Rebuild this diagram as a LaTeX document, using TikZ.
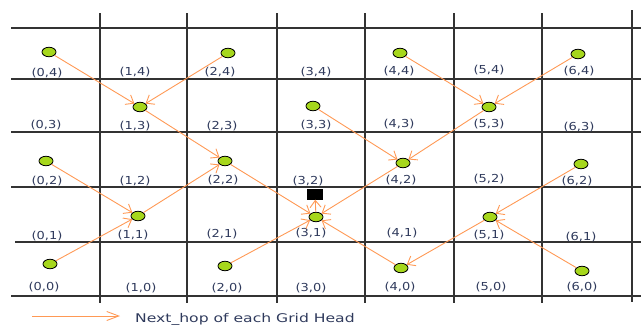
\documentclass[tikz,border=0pt]{standalone}
\usepackage{fontspec}
\setmainfont{DejaVu Sans}
\usetikzlibrary{arrows.meta,shapes.geometric}
\definecolor{gridc}{HTML}{333333}
\definecolor{arrc}{HTML}{FF9955}
\definecolor{nodefill}{HTML}{A6D71C}
\definecolor{labc}{HTML}{2F3A5C}
\newcommand{\widetxt}[2][1.18]{\scalebox{#1}[1]{#2}}
\tikzset{
  gh/.style={ellipse, draw=black, fill=nodefill, line width=0.8pt, minimum width=14pt, minimum height=9.5pt, inner sep=0pt},
  lab/.style={text=labc, font=\fontsize{11}{13}\selectfont, inner sep=0pt},
  hop/.style={draw=arrc, line width=0.9pt, -{Straight Barb[length=7pt,width=11pt]}},
  legendhop/.style={draw=arrc, line width=0.9pt, -{Straight Barb[length=12pt,width=9pt]}},
  gridline/.style={draw=gridc, line width=1.3pt},
  sinkbox/.style={fill=black, minimum width=16pt, minimum height=11pt, inner sep=0pt}
}
\begin{document}
\begin{tikzpicture}[x=1pt,y=-1pt]
\path[use as bounding box] (0,0) rectangle (641,327);
% grid
\foreach \yy/\xs in {28/11,79/11,132/11,187/11,242/15,296/11}
  \draw[gridline] (\xs,\yy) -- (641,\yy);
\foreach \xx in {100,187,277,365,454,542}
  \draw[gridline] (\xx,13) -- (\xx,303);
\draw[gridline] (632,10) -- (632,302);
% labels
\foreach \c/\r/\px/\py in {0/4/47/73, 1/4/135/72, 2/4/220/72, 3/4/316/72, 4/4/399/71, 5/4/489/70, 6/4/579/71,
  0/3/46/125, 1/3/135/126, 2/3/222/126, 3/3/316/125, 4/3/399/124, 5/3/489/124, 6/3/579/127,
  0/2/47/181, 1/2/135/181, 2/2/223/180, 3/2/308/181, 4/2/401/180, 5/2/489/179, 6/2/577/181,
  0/1/47/236, 1/1/133/235, 2/1/222/234, 3/1/311/233, 4/1/402/233, 5/1/489/235, 6/1/581/237,
  0/0/44/287, 1/0/141/288, 2/0/227/288, 3/0/311/288, 4/0/400/287, 5/0/491/287, 6/0/582/287}
  \node[lab] (l\c\r) at (\px,\py) {\widetxt{(\c,\r)}};
% grid heads
\foreach \c/\r/\px/\py in {0/4/49/52, 2/4/228/53, 1/3/140/107, 3/3/313/106, 4/4/400/53, 6/4/578/54,
  5/3/489/107, 0/2/46/161, 2/2/225/161, 4/2/403/163, 6/2/581/164, 1/1/138/216, 3/1/316/217,
  5/1/490/217, 0/0/50/264, 2/0/225/266, 4/0/401/268, 6/0/582/271}
  \node[gh] (n\c\r) at (\px,\py) {};
\node[sinkbox] (sink) at (315,194) {};
% next hops
\foreach \a/\b in {04/13, 24/13, 13/22, 02/11, 00/11, 11/22, 22/31, 20/31, 33/42, 44/53, 64/53,
  53/42, 42/31, 40/31, 51/40, 62/51, 60/51}
  \draw[hop] (n\a) -- (n\b);
\draw[hop] (n31) -- (sink);
% legend
\coordinate (la) at (32,316);
\coordinate (lb) at (120,316);
\draw[legendhop] (la) -- (lb);
\node[anchor=west, text=labc, font=\fontsize{12}{14}\selectfont, inner sep=0pt] (legend) at (135,319.5) {\widetxt[1.3]{Next\_hop of each Grid Head}};
\end{tikzpicture}
\end{document}
